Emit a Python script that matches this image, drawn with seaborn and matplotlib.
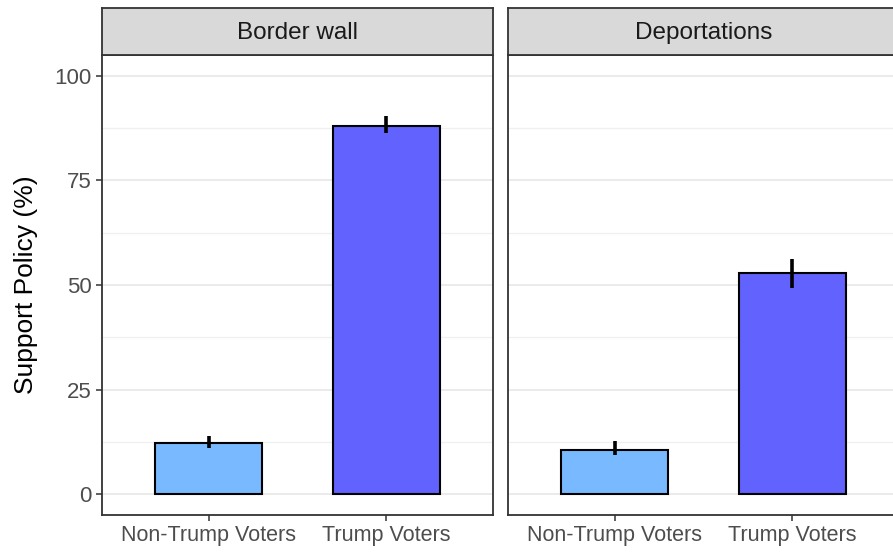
import pandas as pd
import matplotlib.pyplot as plt
import seaborn as sns

# data
policies = ['Border wall', 'Deportations']
groups = ['Non-Trump Voters', 'Trump Voters']
support = {'Border wall': [12.2, 88.0], 'Deportations': [10.6, 52.8]}
err_low = {'Border wall': [11.0, 86.3], 'Deportations': [9.4, 49.4]}
err_high = {'Border wall': [13.8, 90.5], 'Deportations': [12.8, 56.1]}
yticks = [0, 25, 50, 75, 100]

bar_colors = {'Non-Trump Voters': '#78B9FF', 'Trump Voters': '#6262FF'}

sns.set_theme(style='white')
plt.rcParams['font.family'] = ['Liberation Sans', 'DejaVu Sans']


def draw_panel(fig, rect, policy, show_y):
    ax = fig.add_axes(rect)
    df = pd.DataFrame({'group': groups, 'support': support[policy]})
    sns.barplot(data=df, x='group', y='support', hue='group', palette=bar_colors,
                order=groups, hue_order=groups, width=0.6, errorbar=None,
                saturation=1, edgecolor='black', linewidth=1.5, legend=False, ax=ax)
    ax.vlines(range(len(groups)), err_low[policy], err_high[policy],
              color='black', linewidth=2.6, zorder=5)

    ax.set_xlim(-0.6, 1.6)
    ax.set_ylim(-5, 105)
    ax.set_yticks(yticks)
    ax.set_yticks([12.5, 37.5, 62.5, 87.5], minor=True)
    ax.grid(True, which='major', axis='y', color='#EBEBEB', linewidth=1.4, zorder=0)
    ax.grid(True, which='minor', axis='y', color='#F0F0F0', linewidth=1.0, zorder=0)
    ax.set_axisbelow(True)
    for s in ax.spines.values():
        s.set_color('#333333')
        s.set_linewidth(1.3)
    ax.tick_params(axis='both', which='major', length=4.5, width=1.1, color='#333333',
                   bottom=True, left=True, labelcolor='#4D4D4D')
    ax.tick_params(axis='x', labelsize=15.5, pad=3)
    ax.tick_params(axis='y', labelsize=16, pad=3)
    ax.tick_params(which='minor', left=False)
    ax.set_xlabel('')
    if show_y:
        ax.set_ylabel('Support Policy (%)', fontsize=19, color='black', labelpad=12)
    else:
        ax.set_ylabel('')
        ax.tick_params(axis='y', left=False, labelleft=False)

    # facet strip on top of the panel
    strip = fig.add_axes([rect[0], rect[1] + rect[3], rect[2], 47 / 555])
    strip.set_facecolor('#D9D9D9')
    strip.set_xticks([])
    strip.set_yticks([])
    for s in strip.spines.values():
        s.set_color('#333333')
        s.set_linewidth(1.3)
    strip.text(0.5, 0.47, policy, ha='center', va='center', fontsize=17.5,
               color='#1A1A1A', transform=strip.transAxes)
    return ax


fig = plt.figure(figsize=(8.93, 5.55), dpi=100)
W, H = 893, 555
bottom = 1 - 515 / H
height = (515 - 55) / H
draw_panel(fig, [102 / W, bottom, 391 / W, height], policies[0], True)
draw_panel(fig, [508 / W, bottom, 391 / W, height], policies[1], False)

fig.savefig('out.png', dpi=100)
